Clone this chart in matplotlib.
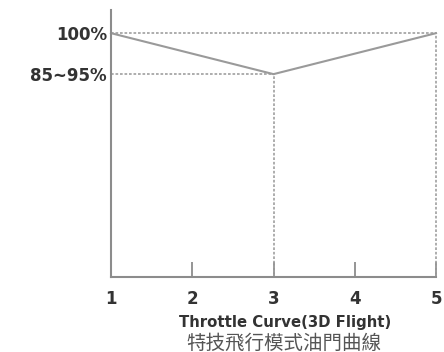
import matplotlib
matplotlib.use('Agg')
import matplotlib.pyplot as plt

# data
points = [1, 3, 5]
throttle = [100, 90, 100]
xticks = [1, 2, 3, 4, 5]
yticks = [100, 90]
ylabels = ['100%', '85~95%']

fig = plt.figure(figsize=(4.44, 3.52), dpi=100)
ax = fig.add_axes([0.25, 0.213, 0.732, 0.758])

grey = '#9a9a9a'
guide = '#a0a0a0'
dash = (0, (1.6, 1.1))

# dotted guide lines
ax.hlines(throttle[0], points[0], points[-1], colors=guide, linestyles=dash, linewidth=1.2, clip_on=False)
ax.hlines(throttle[1], points[0], points[1], colors=guide, linestyles=dash, linewidth=1.2, clip_on=False)
ax.vlines(points[1], 40.5, throttle[1], colors=guide, linestyles=dash, linewidth=1.2, clip_on=False)
ax.vlines(points[2], 40.5, throttle[2], colors=guide, linestyles=dash, linewidth=1.2, clip_on=False)

ax.plot(points, throttle, color=grey, linewidth=1.5, solid_joinstyle='miter', clip_on=False)

ax.set_xlim(1, 5)
ax.set_ylim(40.5, 105.6)

for s in ['top', 'right']:
    ax.spines[s].set_visible(False)
for s in ['left', 'bottom']:
    ax.spines[s].set_color('#8c8c8c')
    ax.spines[s].set_linewidth(1.5)

ax.set_xticks(xticks)
ax.set_xticklabels([str(t) for t in xticks], fontsize=12, fontweight='bold', color='#333333')
ax.tick_params(axis='x', direction='in', length=11, width=1.3, color='#8c8c8c', pad=9)
ax.set_yticks(yticks)
ax.set_yticklabels(ylabels, fontsize=12, fontweight='bold', color='#333333')
ax.tick_params(axis='y', length=0, pad=3)

fig.text(0.642, 0.085, 'Throttle Curve(3D Flight)', ha='center', va='center',
         fontsize=10.7, fontweight='bold', color='#333333')
fig.text(0.64, 0.026, '特技飛行模式油門曲線', ha='center', va='center',
         fontsize=14, color='#555555', family=['Noto Sans CJK TC', 'DejaVu Sans'])

fig.savefig('out.png', dpi=100)
